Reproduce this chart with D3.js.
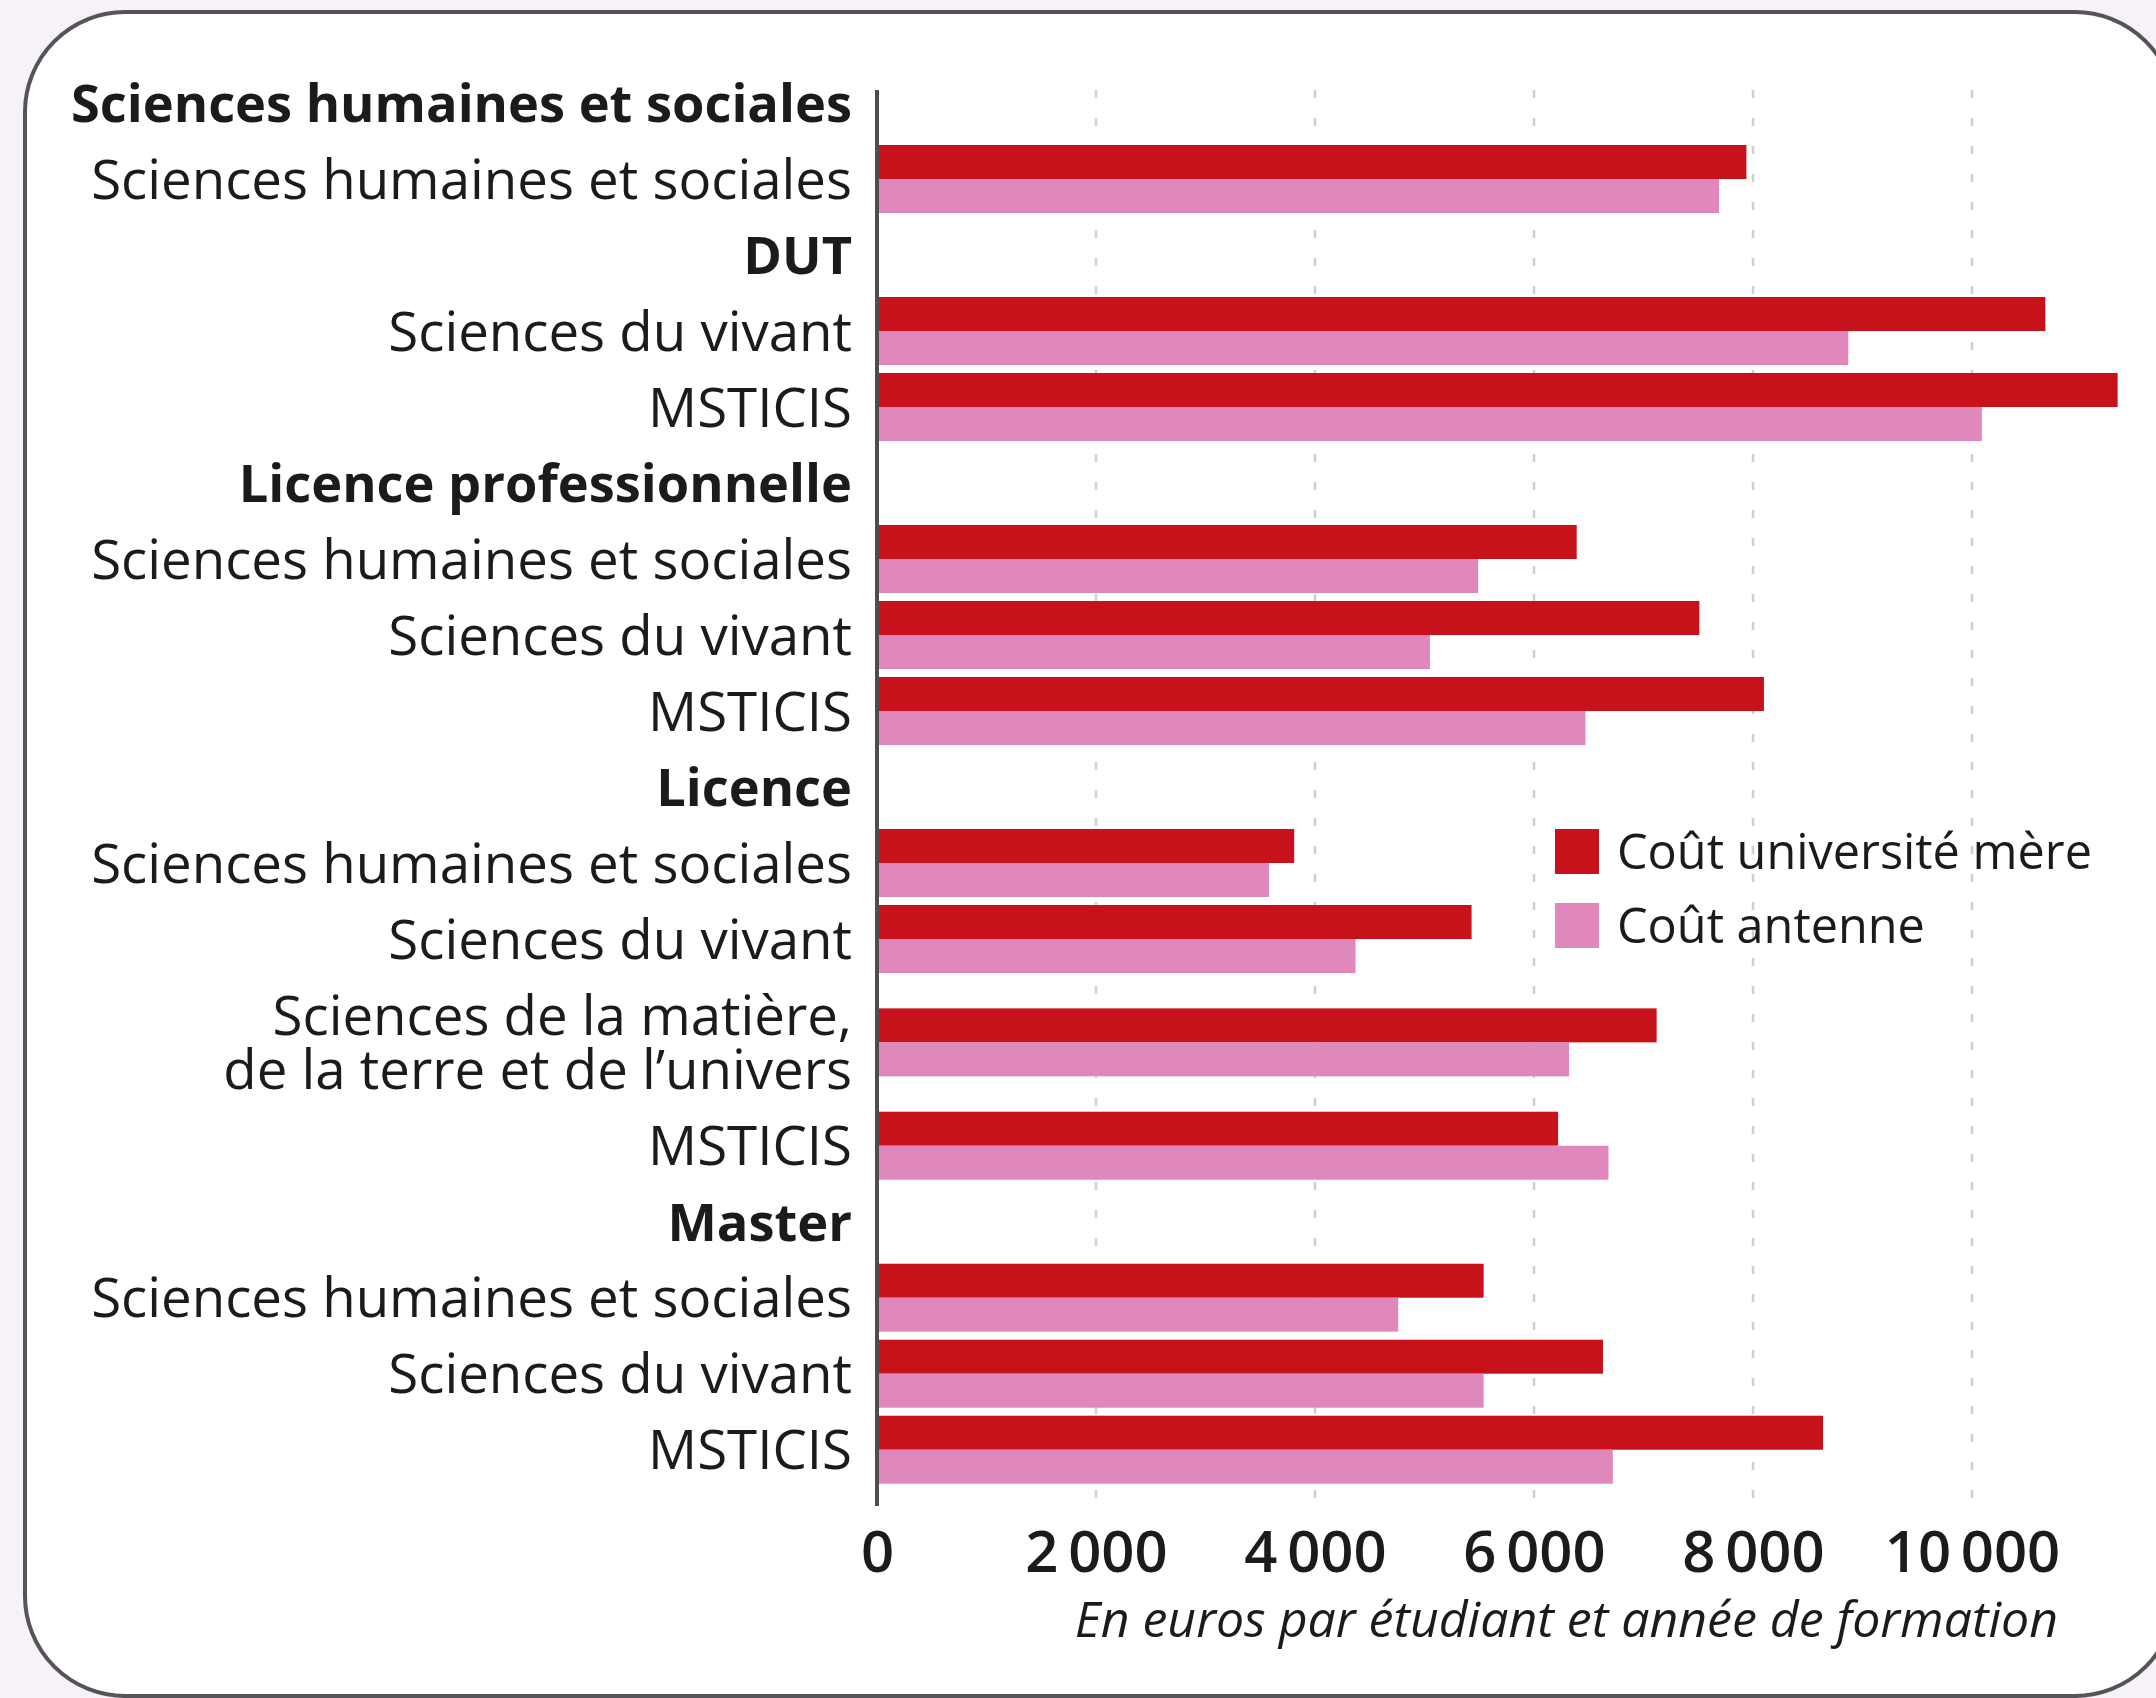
<!DOCTYPE html>
<html>
<head>
<meta charset="utf-8">
<script src="https://cdn.jsdelivr.net/npm/d3@7"></script>
<style>
  html, body { margin: 0; padding: 0; background: #f6f2f8; }
  svg { display: block; }
  text { font-family: "Open Sans", "Noto Sans", sans-serif; fill: #1b1b1b; }
</style>
</head>
<body>
<div class="chart"></div>
<script>
var width = 2156
  , height = 1698
  ;

// niveaux de formation (titres en gras)
var groupLabels = ["Sciences humaines et sociales", "DUT", "Licence professionnelle", "Licence", "Master"];

// filières, avec le niveau auquel chacune appartient
var rowGroup = [0, 1, 1, 2, 2, 2, 3, 3, 3, 3, 4, 4, 4];
var rowLabels = [
  "Sciences humaines et sociales",
  "Sciences du vivant", "MSTICIS",
  "Sciences humaines et sociales", "Sciences du vivant", "MSTICIS",
  "Sciences humaines et sociales", "Sciences du vivant",
  "Sciences de la matière,|de la terre et de l’univers", "MSTICIS",
  "Sciences humaines et sociales", "Sciences du vivant", "MSTICIS"
];

// en euros par étudiant et année de formation
var coutMere    = [7940, 10670, 11330, 6390, 7510, 8100, 3810, 5430, 7120, 6220, 5540, 6630, 8640];
var coutAntenne = [7690,  8870, 10090, 5490, 5050, 6470, 3580, 4370, 6320, 6680, 4760, 5540, 6720];

var seriesLabels = ["Coût université mère", "Coût antenne"];
var colors = ["#c8121b", "#e088bc"];
var xTicks = [0, 2000, 4000, 6000, 8000, 10000];

// one line per header / per filiere, the two-line label gets more room
var rows = [];
rowLabels.forEach(function(label, i) {
  if (i === 0 || rowGroup[i] !== rowGroup[i - 1]) {
    rows.push({ type: "group", label: groupLabels[rowGroup[i]], weight: 1 });
  }
  var lines = label.split("|");
  rows.push({ type: "item", label: label, lines: lines, weight: lines.length > 1 ? 1.72 : 1,
              mere: coutMere[i], antenne: coutAntenne[i] });
});
var acc = 0;
rows.forEach(function(r) {
  r.mid = acc + r.weight / 2;
  acc += r.weight;
});

var svg = d3.select(".chart").append("svg")
  .attr("width", width)
  .attr("height", height);

svg.append("rect")
  .attr("width", width)
  .attr("height", height)
  .attr("fill", "#f6f2f8");

svg.append("rect")
  .attr("x", 25)
  .attr("y", 12)
  .attr("width", 2150)
  .attr("height", 1684)
  .attr("rx", 100)
  .attr("fill", "#fff")
  .attr("stroke", "#55545a")
  .attr("stroke-width", 4);

var x = d3.scaleLinear().domain([0, 10000]).range([877, 1972]);
var y = d3.scaleLinear().domain([0, acc]).range([65, 65 + acc * 76]);

var plotTop = 90, plotBottom = 1506;

// grille pointillée
svg.append("g")
  .selectAll("line")
  .data(xTicks.slice(1))
  .enter().append("line")
    .attr("x1", x)
    .attr("x2", x)
    .attr("y1", plotTop)
    .attr("y2", plotBottom)
    .attr("stroke", "#cfcfcf")
    .attr("stroke-width", 2.5)
    .attr("stroke-dasharray", "8,20");

var items = rows.filter(function(r) { return r.type === "item"; });

var bars = svg.append("g");
bars.selectAll(".mere")
  .data(items)
  .enter().append("rect")
    .attr("class", "mere")
    .attr("x", x(0))
    .attr("y", function(d) { return y(d.mid) - 34; })
    .attr("width", function(d) { return x(d.mere) - x(0); })
    .attr("height", 34)
    .attr("fill", colors[0]);
bars.selectAll(".antenne")
  .data(items)
  .enter().append("rect")
    .attr("class", "antenne")
    .attr("x", x(0))
    .attr("y", function(d) { return y(d.mid); })
    .attr("width", function(d) { return x(d.antenne) - x(0); })
    .attr("height", 34)
    .attr("fill", colors[1]);

// axe vertical
svg.append("line")
  .attr("x1", x(0))
  .attr("x2", x(0))
  .attr("y1", plotTop)
  .attr("y2", plotBottom)
  .attr("stroke", "#4d4d4d")
  .attr("stroke-width", 4);

// libellés
var labels = svg.append("g").attr("text-anchor", "end");
labels.selectAll("text")
  .data(rows)
  .enter().append("text")
    .attr("x", 852)
    .attr("y", function(d) { return y(d.mid); })
    .attr("font-size", function(d) { return d.type === "group" ? 52.4 : 54.6; })
    .attr("font-weight", function(d) { return d.type === "group" ? 700 : 400; })
    .each(function(d) {
      var lines = d.lines || [d.label];
      var t = d3.select(this);
      lines.forEach(function(l, k) {
        t.append("tspan")
          .attr("x", 852)
          .attr("dy", k === 0 ? (0.36 - (lines.length - 1) * 0.5) + "em" : "1.0em")
          .text(l);
      });
    });

// axe des x
var fr = d3.formatLocale({ decimal: ",", thousands: "\u2009", grouping: [3], currency: ["", " €"] });
var xAxis = d3.axisBottom(x)
  .tickValues(xTicks)
  .tickSize(0)
  .tickPadding(0)
  .tickFormat(fr.format(",d"));

var gx = svg.append("g")
  .attr("transform", "translate(0,1530)")
  .call(xAxis);
gx.select(".domain").remove();
gx.selectAll("text")
  .attr("font-size", 58)
  .attr("font-weight", 600)
  .attr("fill", "#1b1b1b")
  .attr("dy", "0.72em")
  .style("font-family", "'Open Sans', sans-serif");

svg.append("text")
  .attr("x", 2058)
  .attr("y", 1637)
  .attr("text-anchor", "end")
  .attr("font-size", 50)
  .attr("font-style", "italic")
  .text("En euros par étudiant et année de formation");

// légende
var legend = svg.append("g")
  .attr("transform", "translate(1555,829)");
var li = legend.selectAll("g")
  .data(seriesLabels)
  .enter().append("g")
    .attr("transform", function(d, i) { return "translate(0," + i * 74 + ")"; });
li.append("rect")
  .attr("width", 44)
  .attr("height", 45)
  .attr("fill", function(d, i) { return colors[i]; });
li.append("text")
  .attr("x", 62)
  .attr("y", 22)
  .attr("dy", "0.36em")
  .attr("font-size", 48.6)
  .text(function(d) { return d; });
</script>
</body>
</html>
